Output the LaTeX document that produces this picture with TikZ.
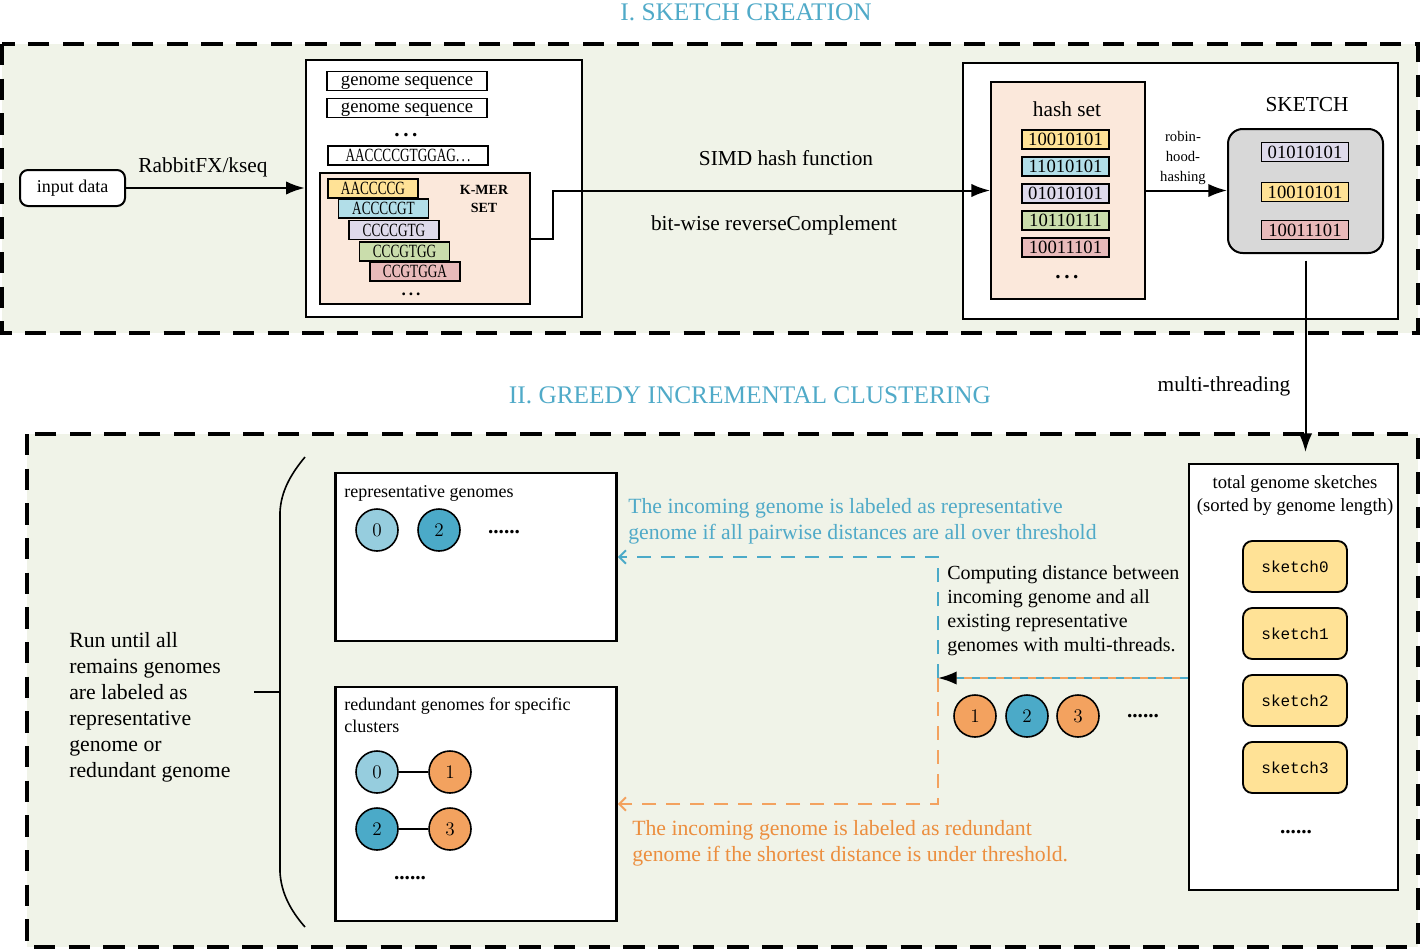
\documentclass[tikz,border=0pt]{standalone}
\usepackage{fontspec}
\setmainfont{Liberation Serif}
\setmonofont{Liberation Mono}
\usepackage{graphicx}
\usetikzlibrary{arrows.meta}

\definecolor{panelbg}{RGB}{240,243,232}
\definecolor{peach}{RGB}{251,232,219}
\definecolor{kyellow}{RGB}{255,226,150}
\definecolor{kblue}{RGB}{178,222,232}
\definecolor{klilac}{RGB}{222,218,235}
\definecolor{kgreen}{RGB}{202,221,172}
\definecolor{kpink}{RGB}{232,186,186}
\definecolor{skgray}{RGB}{216,216,216}
\definecolor{gnlight}{RGB}{150,205,222}
\definecolor{gndark}{RGB}{75,170,200}
\definecolor{gnorange}{RGB}{243,162,95}
\definecolor{tealtxt}{RGB}{80,170,200}
\definecolor{orangetxt}{RGB}{236,142,62}

\newcommand{\narrow}[1]{\scalebox{0.71}[1]{#1}}

\begin{document}
\begin{tikzpicture}[x=0.75pt,y=0.75pt,yscale=-1,xscale=1,
  panel/.style={draw, line width=2.3pt, dash pattern=on 16pt off 10pt, fill=panelbg},
  frame/.style={draw, line width=1.9pt, fill=white, inner sep=0pt},
  seqbox/.style={draw, line width=1.4pt, fill=white, minimum width=120pt, minimum height=14.25pt, inner sep=0pt, text depth=0pt, font=\fontsize{14}{14}\selectfont},
  kmerbox/.style={draw, line width=1.4pt, fill=#1, minimum width=67.5pt, minimum height=14.25pt, inner sep=0pt, font=\fontsize{14}{14}\selectfont},
  hashbox/.style={draw, line width=1.4pt, fill=#1, minimum width=65.25pt, minimum height=14.25pt, inner sep=0pt, font=\fontsize{14}{14}\selectfont},
  genome/.style={circle, draw, line width=1.2pt, fill=#1, minimum size=31.5pt, inner sep=0pt, font=\fontsize{14}{14}\selectfont},
  sketchbox/.style={draw, line width=1.4pt, rounded corners=7pt, fill=kyellow, minimum width=78pt, minimum height=38.25pt, font=\ttfamily\fontsize{12}{12}\selectfont},
  lbl/.style={inner sep=0pt, font=\fontsize{16}{19.5}\selectfont},
  midlbl/.style={inner sep=0pt, font=\fontsize{13.5}{16}\selectfont},
  dotlbl/.style={inner sep=0pt, font=\bfseries\fontsize{16}{16}\selectfont},
  title/.style={inner sep=0pt, text=tealtxt, font=\fontsize{19}{19}\selectfont},
  arr/.style={-{Latex[length=14pt,width=10pt]}, line width=1.5pt},
  teal dash/.style={gndark, line width=1.5pt, dash pattern=on 10.5pt off 7.5pt, -{Straight Barb[length=5pt,width=10pt]}},
  orange dash/.style={gnorange, line width=1.5pt, dash pattern=on 10.5pt off 7.5pt, -{Straight Barb[length=5pt,width=10pt]}}
]
\useasboundingbox (0,0) rectangle (1420,950);

%Shape: Panels
\draw[panel] (2,44) rectangle (1418,333);
\draw[panel] (27,434) rectangle (1418,947);

% Text Node
\node[title] (tsk) at (746,12) {I. SKETCH CREATION};
% Text Node
\node[title] (tgr) at (750,395) {II. GREEDY INCREMENTAL CLUSTERING};

%%%%%%%% sketch creation
\node[draw, line width=1.5pt, rounded corners=6pt, fill=white, minimum width=78.75pt, minimum height=27pt, font=\fontsize{13.5}{13.5}\selectfont] (input) at (72.5,188) {input data};

\node[frame, minimum width=207pt, minimum height=192.75pt] (gbox) at (444,188.5) {};
\node[seqbox] (seq1) at (407,81) {genome sequence};
\node[seqbox] (seq2) at (407,108) {genome sequence};
\node[lbl, font=\bfseries\fontsize{16}{16}\selectfont] (sdots) at (406,135) {.\,.\,.};
\node[seqbox] (seqlong) at (408,155.5) {\narrow{AACCCCGTGGAG.\,.\,.}};

\node[draw, line width=1.4pt, fill=peach, minimum width=157.5pt, minimum height=98.25pt, inner sep=0pt] (kmer) at (425,238.5) {};
\node[kmerbox=kyellow] (k1) at (373,188.5) {\narrow{AACCCCG}};
\node[kmerbox=kblue]   (k2) at (383.5,208.5) {\narrow{ACCCCGT}};
\node[kmerbox=klilac]  (k3) at (394,230) {\narrow{CCCCGTG}};
\node[kmerbox=kgreen]  (k4) at (404.5,251.5) {\narrow{CCCGTGG}};
\node[kmerbox=kpink]   (k5) at (415,271.5) {\narrow{CCGTGGA}};
\node[lbl, font=\bfseries\fontsize{13}{13}\selectfont] (kdots) at (411,294) {.\,.\,.};
\node[align=center, inner sep=0pt, font=\bfseries\fontsize{10.5}{13}\selectfont] (kmerlbl) at (484,199) {K-MER\\SET};

\node[frame, minimum width=326.25pt, minimum height=192pt] (hbox) at (1180.5,191) {};
\node[draw, line width=1.4pt, fill=peach, minimum width=115.5pt, minimum height=162.75pt, inner sep=0pt] (hset) at (1068,190.5) {};
\node[lbl] (hsetlbl) at (1067,109) {hash set};
\node[hashbox=kyellow] (h1) at (1065.5,139.5) {10010101};
\node[hashbox=kblue]   (h2) at (1065.5,166.5) {11010101};
\node[hashbox=klilac]  (h3) at (1065.5,193.5) {01010101};
\node[hashbox=kgreen]  (h4) at (1065.5,220.5) {10110111};
\node[hashbox=kpink]   (h5) at (1065.5,247.5) {10011101};
\node[lbl, font=\bfseries\fontsize{16}{16}\selectfont] (hdots) at (1067,277) {.\,.\,.};

\node[draw, line width=1.5pt, rounded corners=11pt, fill=skgray, minimum width=116.25pt, minimum height=93pt] (sk) at (1305.5,191) {};
\node[lbl] (sklbl) at (1307,105) {SKETCH};
\node[hashbox=klilac]  (s1) at (1305,152) {01010101};
\node[hashbox=kyellow] (s2) at (1305,192) {10010101};
\node[hashbox=kpink]   (s3) at (1305,230) {10011101};

% Text Node
\node[lbl] (rabbit) at (203,167) {RabbitFX/kseq};
\node[lbl] (simd) at (786,158) {SIMD hash function};
\node[lbl] (revc) at (774,225) {bit-wise reverseComplement};
\node[align=center, inner sep=0pt, font=\fontsize{11}{15}\selectfont] (robin) at (1183,158) {robin-\\hood-\\hashing};
\node[lbl] (mthr) at (1224,386) {multi-threading};

%Straight Lines
\draw[arr] (input) -- (gbox.west |- input);
\draw[arr] (kmer.east) -- ++(22,0) |- (hset.west);
\draw[arr] (hset.east) -- (sk.west |- hset.east);

%%%%%%%% greedy incremental clustering
\node[frame, minimum width=156.75pt, minimum height=319.5pt] (tot) at (1293.5,677) {};
\node[midlbl, align=center, font=\fontsize{14}{17}\selectfont] (totlbl) at (1295,495.5) {total genome sketches\\(sorted by genome length)};
\foreach \i/\y in {0/566.5,1/633.5,2/700.5,3/767.5}
  \node[sketchbox] (sk\i) at (1295,\y) {sketch\i};
\node[dotlbl] (tdots) at (1296,832) {......};

\draw[arr, shorten <=5pt, shorten >=8pt] (sk.south) -- (sk.south |- tot.north);

\node[frame, minimum width=210.75pt, minimum height=126pt] (rep) at (476,557) {};
\node[midlbl, anchor=west] (replbl) at (344,493) {representative genomes};
\node[genome=gnlight] (c0) at (377,530) {$0$};
\node[genome=gndark]  (c2) at (439,530) {$2$};
\node[dotlbl] (cdots) at (504,532) {......};

\node[frame, minimum width=210.75pt, minimum height=175.5pt] (red) at (476,804) {};
\node[midlbl, anchor=north west, align=left] (redlbl) at (344,698) {redundant genomes for specific\\clusters};
\node[genome=gnlight]  (r0) at (377,772) {$0$};
\node[genome=gnorange] (r1) at (450,772) {$1$};
\node[genome=gndark]   (r2) at (377,829) {$2$};
\node[genome=gnorange] (r3) at (450,829) {$3$};
\node[dotlbl] (rdots) at (410,878) {......};
\draw[line width=1.2pt] (r0) -- (r1);
\draw[line width=1.2pt] (r2) -- (r3);

% Text Node
\node[lbl, anchor=west, align=left, font=\fontsize{16.3}{19.5}\selectfont] (runtxt) at (69,707) {Run until all\\remains genomes\\are labeled as\\representative\\genome or\\redundant genome};
%Shape: Brace
\draw[line width=1.2pt] (305,457) .. controls (290,475) and (281,492) .. (280,512) -- (280,872) .. controls (281,892) and (290,910) .. (305,927);
\draw[line width=1.2pt] (254,692) -- (280,692);

\node[lbl, anchor=west, align=left, font=\fontsize{15}{18}\selectfont] (comptxt) at (947,611) {Computing distance between\\incoming genome and all\\existing representative\\genomes with multi-threads.};
\node[lbl, anchor=west, align=left, text=tealtxt, font=\fontsize{16.3}{19.5}\selectfont] (reptxt) at (628,521) {The incoming genome is labeled as representative\\genome if all pairwise distances are all over threshold};
\node[lbl, anchor=west, align=left, text=orangetxt, font=\fontsize{16.3}{19.5}\selectfont] (redtxt) at (632,843.5) {The incoming genome is labeled as redundant\\genome if the shortest distance is under threshold.};

\node[genome=gnorange] (q1) at (975,716) {$1$};
\node[genome=gndark]   (q2) at (1027,716) {$2$};
\node[genome=gnorange] (q3) at (1078,716) {$3$};
\node[dotlbl] (qdots) at (1143,716) {......};

\coordinate (split) at (938,678);
%Straight Lines
\draw[gnorange, line width=1.5pt, -{Latex[length=14pt,width=10pt,color=black]}] (tot.west |- split) -- (split);
\draw[gndark, line width=1.5pt, dash pattern=on 6pt off 6pt, shorten >=14pt] (tot.west |- split) -- (split);
\draw[teal dash] (split) |- (rep.east);
\draw[orange dash] (split) |- (red.east);

\end{tikzpicture}
\end{document}
